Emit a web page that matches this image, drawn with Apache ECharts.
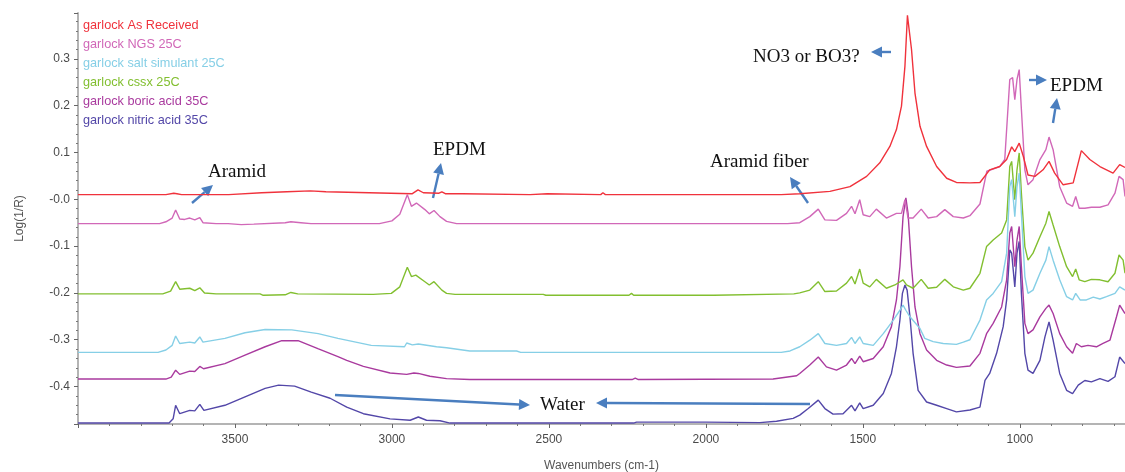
<!DOCTYPE html>
<html>
<head>
<meta charset="utf-8">
<title>garlock FTIR</title>
<script src="https://cdn.jsdelivr.net/npm/echarts@6.0.0/dist/echarts.min.js"></script>
<style>
    html, body { margin: 0; padding: 0; background: #fff; }
    #main { width: 1125px; height: 472px; }
</style>
</head>
<body>
<div id="main"></div>
<script>
// spectra, [wavenumber, log(1/R)]
var seriesNames = ['garlock As Received', 'garlock NGS 25C', 'garlock salt simulant 25C',
    'garlock cssx 25C', 'garlock boric acid 35C', 'garlock nitric acid 35C'];
var seriesColors = ['#f0323c', '#d168b8', '#86cfe6', '#82bf30', '#a93a9e', '#5347a8'];

var asReceived = [[4000,0.010],[3720,0.010],[3695,0.013],[3685,0.012],[3670,0.010],[3520,0.010],[3515,0.014],[3415,0.014],[3410,0.016],[3335,0.016],[3330,0.018],[3260,0.018],[3255,0.016],[3210,0.016],[3205,0.012],[2935,0.012],[2917,0.020],[2900,0.014],[2850,0.013],[2841,0.016],[2830,0.012],[2775,0.012],[2770,0.010],[2560,0.010],[2555,0.012],[2505,0.012],[2500,0.010],[2335,0.010],[2328,0.014],[2320,0.010],[1760,0.010],[1701,0.012],[1605,0.017],[1541,0.027],[1488,0.049],[1446,0.078],[1414,0.113],[1393,0.149],[1377,0.199],[1366,0.284],[1358,0.393],[1345,0.320],[1334,0.227],[1318,0.156],[1297,0.113],[1265,0.070],[1233,0.045],[1202,0.036],[1159,0.035],[1127,0.036],[1096,0.063],[1064,0.070],[1042,0.085],[1026,0.112],[1016,0.102],[1002,0.120],[989,0.092],[974,0.052],[952,0.049],[926,0.063],[907,0.081],[889,0.056],[862,0.031],[830,0.035],[804,0.104],[777,0.085],[745,0.070],[703,0.056],[682,0.074],[665,0.068]];

var ngs25 = [[4000,-0.052],[3740,-0.052],[3720,-0.048],[3700,-0.040],[3689,-0.023],[3676,-0.042],[3660,-0.043],[3644,-0.040],[3628,-0.044],[3612,-0.039],[3602,-0.050],[3560,-0.052],[3522,-0.052],[3480,-0.054],[3440,-0.053],[3340,-0.050],[3322,-0.048],[3290,-0.050],[3258,-0.052],[3040,-0.052],[3000,-0.046],[2975,-0.032],[2951,0.010],[2938,-0.015],[2922,-0.008],[2895,-0.022],[2881,-0.031],[2866,-0.024],[2847,-0.037],[2826,-0.047],[2794,-0.052],[1740,-0.052],[1701,-0.050],[1669,-0.037],[1642,-0.021],[1621,-0.044],[1584,-0.045],[1552,-0.030],[1536,-0.015],[1525,-0.031],[1510,-0.001],[1499,-0.033],[1478,-0.037],[1457,-0.021],[1425,-0.040],[1393,-0.030],[1377,-0.030],[1366,-0.001],[1361,0.000],[1356,-0.040],[1340,-0.040],[1314,-0.021],[1292,-0.040],[1265,-0.037],[1239,-0.022],[1212,-0.037],[1180,-0.040],[1159,-0.035],[1127,-0.010],[1105,0.060],[1064,0.070],[1048,0.085],[1032,0.256],[1023,0.260],[1016,0.213],[1009,0.256],[1002,0.277],[995,0.192],[984,0.063],[974,0.031],[958,0.042],[936,0.085],[917,0.106],[907,0.133],[894,0.106],[873,0.027],[851,-0.008],[832,-0.015],[822,0.006],[811,-0.019],[793,-0.019],[772,-0.017],[745,-0.017],[719,-0.012],[697,0.013],[684,0.049],[671,0.042],[665,0.006]];

var salt25 = [[4000,-0.327],[3745,-0.327],[3720,-0.322],[3700,-0.312],[3689,-0.292],[3676,-0.308],[3644,-0.305],[3628,-0.307],[3612,-0.294],[3602,-0.305],[3532,-0.297],[3468,-0.285],[3404,-0.278],[3319,-0.279],[3235,-0.287],[3172,-0.297],[3066,-0.312],[2960,-0.315],[2953,-0.307],[2935,-0.311],[2916,-0.309],[2858,-0.315],[2826,-0.317],[2752,-0.324],[2603,-0.324],[2590,-0.327],[1760,-0.327],[1732,-0.324],[1701,-0.315],[1669,-0.301],[1642,-0.287],[1621,-0.308],[1584,-0.312],[1552,-0.308],[1536,-0.295],[1525,-0.308],[1510,-0.294],[1499,-0.308],[1467,-0.312],[1435,-0.287],[1403,-0.258],[1382,-0.237],[1372,-0.226],[1363,-0.237],[1350,-0.251],[1318,-0.276],[1303,-0.297],[1276,-0.304],[1244,-0.308],[1202,-0.310],[1180,-0.305],[1159,-0.300],[1127,-0.258],[1106,-0.215],[1085,-0.201],[1058,-0.176],[1042,-0.115],[1032,0.027],[1026,0.042],[1016,-0.037],[1009,0.027],[1002,0.056],[995,-0.030],[984,-0.165],[974,-0.201],[958,-0.194],[936,-0.158],[917,-0.130],[907,-0.101],[894,-0.130],[873,-0.172],[851,-0.208],[832,-0.215],[822,-0.201],[808,-0.215],[788,-0.215],[766,-0.209],[745,-0.213],[724,-0.208],[697,-0.201],[682,-0.187],[665,-0.194]];

var cssx25 = [[4000,-0.202],[3730,-0.202],[3705,-0.196],[3689,-0.176],[3676,-0.192],[3644,-0.190],[3628,-0.195],[3612,-0.189],[3597,-0.200],[3560,-0.202],[3420,-0.202],[3410,-0.205],[3340,-0.204],[3322,-0.199],[3300,-0.202],[3060,-0.203],[3002,-0.201],[2975,-0.187],[2951,-0.145],[2938,-0.165],[2924,-0.162],[2895,-0.176],[2881,-0.183],[2866,-0.176],[2841,-0.194],[2826,-0.201],[2799,-0.203],[2518,-0.203],[2510,-0.205],[2245,-0.205],[2237,-0.201],[2230,-0.205],[1975,-0.205],[1970,-0.202],[1720,-0.202],[1701,-0.200],[1669,-0.194],[1642,-0.176],[1621,-0.197],[1584,-0.196],[1552,-0.179],[1536,-0.165],[1525,-0.181],[1510,-0.149],[1499,-0.179],[1478,-0.187],[1457,-0.171],[1425,-0.190],[1398,-0.183],[1372,-0.172],[1361,-0.183],[1340,-0.190],[1314,-0.171],[1292,-0.190],[1265,-0.188],[1239,-0.171],[1212,-0.187],[1180,-0.194],[1159,-0.190],[1127,-0.158],[1106,-0.101],[1085,-0.087],[1058,-0.072],[1042,-0.044],[1032,0.070],[1026,0.081],[1016,-0.001],[1009,0.063],[1002,0.099],[995,0.013],[984,-0.101],[974,-0.130],[958,-0.115],[936,-0.080],[917,-0.051],[907,-0.026],[894,-0.055],[873,-0.101],[851,-0.144],[832,-0.165],[822,-0.149],[811,-0.172],[793,-0.176],[772,-0.171],[745,-0.172],[719,-0.176],[697,-0.158],[684,-0.119],[671,-0.130],[665,-0.158]];

var boric35 = [[4000,-0.384],[3720,-0.384],[3703,-0.380],[3689,-0.365],[3676,-0.374],[3644,-0.367],[3628,-0.368],[3612,-0.357],[3600,-0.362],[3532,-0.351],[3468,-0.333],[3404,-0.315],[3351,-0.302],[3299,-0.302],[3236,-0.319],[3172,-0.336],[3144,-0.344],[3091,-0.357],[3006,-0.371],[2953,-0.374],[2930,-0.371],[2916,-0.372],[2879,-0.378],[2826,-0.383],[2752,-0.385],[2235,-0.385],[2225,-0.382],[2215,-0.385],[1786,-0.384],[1711,-0.377],[1701,-0.372],[1669,-0.354],[1642,-0.337],[1616,-0.358],[1584,-0.365],[1552,-0.354],[1536,-0.340],[1525,-0.351],[1510,-0.335],[1499,-0.347],[1467,-0.340],[1435,-0.315],[1409,-0.272],[1393,-0.215],[1382,-0.144],[1372,-0.037],[1363,0.003],[1356,-0.030],[1345,-0.144],[1334,-0.230],[1318,-0.287],[1297,-0.322],[1265,-0.344],[1233,-0.354],[1202,-0.359],[1159,-0.356],[1127,-0.329],[1106,-0.287],[1085,-0.265],[1058,-0.230],[1042,-0.172],[1032,-0.072],[1026,-0.058],[1016,-0.144],[1009,-0.087],[1002,-0.058],[995,-0.144],[984,-0.265],[974,-0.287],[958,-0.279],[936,-0.251],[917,-0.233],[907,-0.226],[894,-0.244],[873,-0.287],[851,-0.315],[832,-0.329],[820,-0.308],[804,-0.315],[783,-0.312],[756,-0.315],[735,-0.308],[713,-0.301],[692,-0.251],[682,-0.226],[665,-0.244]];

var nitric35 = [[4000,-0.478],[3710,-0.478],[3697,-0.469],[3689,-0.440],[3676,-0.458],[3644,-0.451],[3628,-0.452],[3612,-0.438],[3599,-0.451],[3532,-0.440],[3468,-0.422],[3404,-0.404],[3361,-0.397],[3310,-0.399],[3257,-0.412],[3197,-0.425],[3144,-0.444],[3091,-0.458],[3006,-0.469],[2942,-0.472],[2916,-0.465],[2890,-0.472],[2847,-0.473],[2815,-0.478],[2230,-0.478],[2221,-0.476],[2000,-0.476],[1995,-0.478],[1828,-0.477],[1775,-0.474],[1722,-0.468],[1701,-0.461],[1674,-0.447],[1642,-0.429],[1621,-0.447],[1595,-0.459],[1563,-0.458],[1536,-0.440],[1525,-0.452],[1510,-0.435],[1499,-0.447],[1467,-0.440],[1435,-0.415],[1409,-0.372],[1393,-0.315],[1382,-0.258],[1374,-0.201],[1366,-0.183],[1359,-0.194],[1350,-0.251],[1340,-0.329],[1324,-0.408],[1297,-0.433],[1265,-0.440],[1233,-0.447],[1202,-0.454],[1159,-0.450],[1127,-0.444],[1111,-0.387],[1096,-0.372],[1074,-0.329],[1053,-0.272],[1042,-0.215],[1032,-0.108],[1026,-0.115],[1016,-0.187],[1009,-0.115],[1002,-0.090],[995,-0.201],[984,-0.329],[974,-0.365],[958,-0.372],[936,-0.344],[920,-0.294],[907,-0.262],[894,-0.301],[873,-0.372],[851,-0.408],[832,-0.415],[814,-0.397],[793,-0.387],[772,-0.390],[745,-0.383],[719,-0.389],[697,-0.379],[682,-0.337],[665,-0.351]];

var spectra = [asReceived, ngs25, salt25, cssx25, boric35, nitric35];

var chart = echarts.init(document.getElementById('main'));
var arrowColor = '#4a7ebf';
var noteFont = '19px "Liberation Serif", "Times New Roman", serif';

// 画箭头: 线 + 三角
function arrow(x1, y1, x2, y2) {
    var ang = Math.atan2(y2 - y1, x2 - x1), len = 11, w = 5.5;
    var bx = x2 - len * Math.cos(ang), by = y2 - len * Math.sin(ang);
    var px = -Math.sin(ang) * w, py = Math.cos(ang) * w;
    return [
        { type: 'line', silent: true, shape: { x1: x1, y1: y1, x2: bx, y2: by }, style: { stroke: arrowColor, lineWidth: 2.4 } },
        { type: 'polygon', silent: true, shape: { points: [[x2, y2], [bx + px, by + py], [bx - px, by - py]] }, style: { fill: arrowColor } }
    ];
}
function note(text, x, y) {
    return { type: 'text', silent: true, x: x, y: y, style: { text: text, font: noteFont, fill: '#111', verticalAlign: 'middle' } };
}

var graphics = [].concat(
    arrow(192, 203, 213, 185), note('Aramid', 208, 172),
    arrow(433, 198, 441, 163), note('EPDM', 433, 150),
    arrow(808, 203, 790, 177), note('Aramid fiber', 710, 162),
    arrow(891, 52, 871, 52), note('NO3 or BO3?', 753, 57),
    arrow(1029, 80, 1047, 80), arrow(1053, 123, 1057, 98), note('EPDM', 1050, 86),
    arrow(335, 395, 530, 405), arrow(810, 404, 596, 403), note('Water', 540, 405)
);

var series = [];
for (var i = 0; i < spectra.length; i++) {
    series.push({
        name: seriesNames[i],
        type: 'line',
        data: spectra[i],
        showSymbol: false,
        symbol: 'none',
        color: seriesColors[i],
        lineStyle: { width: 1.4, color: seriesColors[i] },
        z: 10 - i
    });
}

var option = {
    animation: false,
    backgroundColor: '#fff',
    textStyle: { fontFamily: '"Liberation Sans", Arial, sans-serif' },
    grid: { left: 78, right: 0, top: 13, bottom: 48, outerBoundsMode: 'none', containLabel: false },
    legend: {
        orient: 'vertical',
        left: 77,
        top: 18,
        padding: 0,
        icon: 'none',
        itemWidth: 1,
        itemHeight: 14,
        itemGap: 5,
        selectedMode: false,
        data: seriesNames.map(function (n, k) {
            return { name: n, textStyle: { color: seriesColors[k], fontSize: 12.7, lineHeight: 14 } };
        })
    },
    xAxis: {
        type: 'value',
        inverse: true,
        min: 665,
        max: 4000,
        splitNumber: 7,
        name: 'Wavenumbers (cm-1)',
        nameLocation: 'middle',
        nameGap: 36,
        nameTextStyle: { color: '#555', fontSize: 12 },
        axisLine: { onZero: false, lineStyle: { color: '#b4b4b4', width: 2 } },
        axisTick: { length: 4, lineStyle: { color: '#666' } },
        minorTick: { show: true, splitNumber: 5, length: 2, lineStyle: { color: '#777' } },
        splitLine: { show: false },
        axisLabel: {
            color: '#4a4a4a', fontSize: 12, margin: 10,
            formatter: function (v) {
                if (v % 500 !== 0 || v >= 4000) return '';
                return String(v);
            }
        }
    },
    yAxis: {
        type: 'value',
        min: -0.48,
        max: 0.398,
        splitNumber: 9,
        name: 'Log(1/R)',
        nameLocation: 'middle',
        nameGap: 52,
        nameTextStyle: { color: '#555', fontSize: 12 },
        axisLine: { show: true, onZero: false, lineStyle: { color: '#b4b4b4', width: 2 } },
        axisTick: { show: true, length: 4, lineStyle: { color: '#666' } },
        minorTick: { show: true, splitNumber: 5, length: 2, lineStyle: { color: '#777' } },
        splitLine: { show: false },
        axisLabel: {
            color: '#4a4a4a', fontSize: 12, margin: 8,
            formatter: function (v) {
                if (Math.abs(v * 10 - Math.round(v * 10)) > 1e-6 || v > 0.35) return '';
                return Math.abs(v) < 1e-9 ? '-0.0' : v.toFixed(1);
            }
        }
    },
    graphic: graphics,
    series: series
};
chart.setOption(option);
</script>
</body>
</html>
